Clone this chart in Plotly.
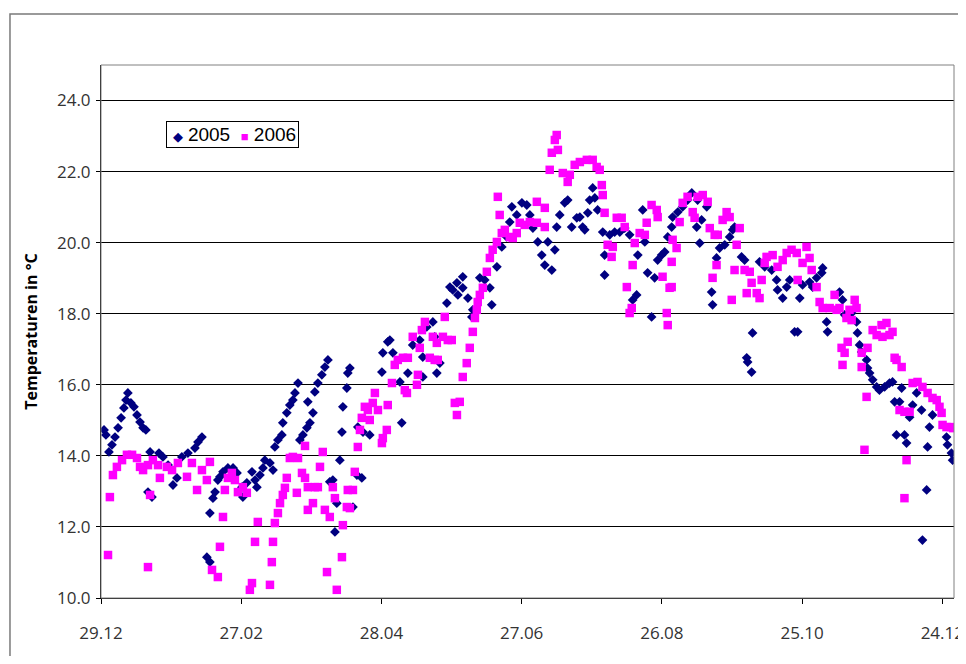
import plotly.graph_objects as go

# Day offsets counted from 29.12 and daily water temperatures (°C)
days_2005 = [1.3, 2.1, 3.4, 4.7, 6.0, 7.3, 8.6, 9.8, 10.7, 11.5, 12.8, 14.1, 15.4, 16.7, 18.0, 19.2,
             20.1, 21.8, 21.0, 24.8, 26.5, 28.7, 30.8, 32.5, 34.6, 37.2, 40.2, 41.5, 43.2, 45.3, 46.6,
             46.6, 47.9, 48.8, 50.0, 50.9, 52.2, 54.3, 56.5, 58.2, 60.3, 60.7, 62.4, 64.6, 65.9, 66.7,
             68.0, 69.3, 70.1, 72.3, 73.6, 74.4, 75.7, 77.4, 77.8, 79.5, 80.8, 82.1, 83.0, 84.3, 85.1,
             86.4, 88.1, 89.4, 90.7, 88.5, 91.5, 92.8, 94.5, 95.8, 97.1, 97.9, 99.2, 100.1, 100.9, 102.2,
             103.1, 103.5, 105.2, 105.6, 106.5, 107.8, 109.5, 111.6, 109.9, 112.1, 115.0, 120.2, 120.6,
             122.7, 123.6, 124.9, 127.9, 128.7, 131.3, 133.4, 136.4, 137.7, 137.7, 139.4, 142.0, 142.8,
             143.7, 145.0, 148.0, 149.3, 150.5, 152.7, 152.3, 154.8, 154.8, 157.0, 158.7, 159.1, 162.1,
             164.2, 166.4, 167.2, 169.4, 171.5, 173.6, 174.9, 175.8, 177.9, 180.1, 182.2, 183.5, 184.8,
             186.9, 188.6, 189.9, 191.2, 192.9, 194.2, 195.0, 196.3, 198.4, 199.7, 201.4, 203.6, 204.9,
             206.1, 207.0, 208.3, 209.1, 210.4, 211.3, 212.5, 214.7, 215.5, 215.5, 217.7, 219.8, 222.0,
             224.1, 226.2, 227.5, 229.2, 229.7, 231.8, 232.7, 233.9, 235.6, 236.9, 238.2, 239.9, 241.2,
             242.5, 244.2, 244.6, 246.8, 248.9, 251.0, 252.8, 255.3, 254.9, 256.2, 257.0, 259.2, 261.3,
             261.7, 263.4, 264.7, 266.9, 269.0, 270.3, 271.1, 274.1, 275.4, 276.3, 276.7, 278.4, 278.8,
             281.8, 284.0, 287.0, 289.1, 289.5, 291.7, 293.4, 294.7, 296.8, 298.1, 299.0, 300.2, 303.2,
             304.5, 306.2, 308.4, 308.8, 310.5, 310.9, 316.0, 317.3, 318.2, 321.2, 323.3, 323.7, 324.6,
             325.5, 327.6, 328.0, 328.9, 330.2, 331.9, 333.1, 335.3, 337.4, 338.7, 339.6, 340.4, 341.7,
             342.6, 343.8, 344.7, 346.0, 347.3, 349.0, 351.1, 351.5, 353.3, 353.7, 354.5, 355.8, 361.8,
             362.2, 363.9, 364.4]
temp_2005 = [14.73, 14.59, 14.11, 14.31, 14.53, 14.79, 15.07, 15.35, 15.57, 15.77, 15.49, 15.38, 15.15,
             14.95, 14.79, 14.73, 12.98, 12.84, 14.11, 14.08, 13.97, 13.74, 13.18, 13.38, 13.97, 14.08,
             14.22, 14.39, 14.53, 11.15, 11.01, 12.39, 12.81, 12.98, 13.32, 13.41, 13.55, 13.66, 13.66,
             13.52, 13.12, 12.84, 13.24, 13.55, 13.32, 13.12, 13.46, 13.66, 13.88, 13.80, 13.60, 14.25,
             14.45, 14.59, 14.93, 15.21, 15.43, 15.57, 15.77, 16.05, 14.45, 14.59, 14.79, 14.93, 15.21,
             15.52, 15.80, 16.05, 16.28, 16.50, 16.70, 13.27, 13.32, 11.86, 12.67, 13.88, 14.67, 15.38,
             15.91, 16.33, 16.47, 12.56, 13.46, 13.38, 14.81, 14.67, 14.59, 16.36, 16.90, 17.21, 17.26,
             16.90, 16.08, 14.93, 16.33, 17.12, 17.26, 16.78, 16.22, 17.63, 17.77, 17.35, 16.33, 16.61,
             18.30, 18.75, 18.67, 18.53, 18.87, 19.04, 18.73, 18.44, 17.91, 18.11, 19.01, 18.95, 18.73,
             18.25, 19.32, 19.88, 20.16, 20.58, 21.01, 20.78, 21.12, 21.06, 20.78, 20.41, 20.02, 19.65,
             19.37, 20.02, 19.23, 19.80, 20.44, 20.78, 21.12, 21.20, 20.44, 20.70, 20.72, 20.44, 20.36,
             20.84, 21.20, 21.54, 21.26, 20.92, 20.30, 19.65, 19.09, 20.22, 20.30, 20.30, 20.41, 20.22,
             18.39, 18.53, 19.65, 20.92, 20.02, 19.15, 17.91, 19.01, 19.51, 19.65, 19.74, 20.16, 20.44,
             20.72, 20.86, 21.01, 21.20, 21.40, 21.20, 20.44, 19.99, 20.64, 21.01, 18.61, 18.25, 19.57,
             19.85, 19.94, 20.16, 20.36, 20.44, 19.60, 19.51, 16.76, 16.64, 16.36, 17.46, 19.46, 19.32,
             19.23, 18.95, 18.67, 18.44, 18.75, 18.95, 17.49, 17.49, 18.44, 18.81, 18.89, 18.75, 19.01,
             19.15, 19.29, 17.77, 17.49, 18.61, 18.39, 17.97, 18.02, 17.77, 17.46, 17.12, 16.92, 16.70,
             16.47, 16.33, 16.14, 15.94, 15.85, 15.94, 16.05, 16.08, 15.52, 14.59, 15.52, 15.91, 14.59,
             14.36, 15.09, 15.43, 15.77, 15.29, 11.63, 13.04, 14.25, 14.81, 15.15, 14.53, 14.31, 14.08,
             13.88]

days_2006 = [3.0, 3.8, 5.1, 6.8, 9.0, 11.1, 13.3, 15.4, 16.7, 18.0, 20.1, 20.1, 21.0, 22.2, 24.4, 25.2,
             28.2, 30.4, 32.9, 36.8, 38.9, 41.1, 43.2, 45.3, 46.6, 47.5, 50.0, 50.9, 52.2, 53.0, 54.3,
             56.0, 57.3, 58.6, 60.7, 62.4, 63.7, 64.6, 65.9, 67.1, 72.3, 73.1, 73.6, 74.4, 75.7, 76.6,
             77.8, 78.7, 79.5, 80.8, 82.1, 83.8, 84.3, 86.0, 87.3, 87.3, 88.5, 88.5, 90.7, 91.5, 92.8,
             93.7, 94.9, 95.8, 96.7, 97.9, 99.2, 100.1, 100.9, 103.1, 103.5, 105.2, 105.6, 106.5, 107.8,
             108.6, 109.9, 110.8, 111.6, 112.9, 114.2, 115.0, 116.3, 117.2, 118.5, 120.2, 120.6, 122.3,
             122.7, 124.5, 125.7, 127.0, 129.2, 131.3, 130.0, 130.9, 133.4, 135.2, 135.6, 136.4, 137.3,
             138.6, 140.7, 142.0, 142.8, 143.7, 144.1, 146.3, 147.1, 148.4, 150.1, 151.4, 152.3, 153.5,
             154.8, 156.5, 157.8, 159.1, 160.0, 160.8, 161.2, 162.1, 163.4, 165.1, 166.4, 167.6, 169.4,
             169.8, 170.6, 171.5, 172.8, 174.9, 176.2, 177.9, 179.2, 181.3, 183.5, 186.5, 186.5, 189.9,
             189.9, 192.0, 192.9, 194.2, 195.0, 195.5, 197.6, 199.7, 200.6, 202.7, 204.9, 207.9, 210.4,
             212.1, 213.4, 214.3, 214.7, 215.5, 216.8, 218.5, 219.0, 220.7, 222.8, 224.1, 225.0, 226.2,
             227.1, 227.5, 228.4, 230.5, 232.7, 233.5, 235.6, 237.8, 238.2, 240.3, 243.3, 242.1, 242.5,
             244.2, 244.6, 244.2, 246.3, 247.6, 248.9, 251.0, 253.2, 254.0, 255.3, 257.5, 259.6, 260.5,
             261.7, 262.6, 263.4, 263.9, 266.0, 267.7, 269.0, 269.9, 271.1, 272.0, 273.3, 275.4, 276.3,
             277.6, 278.4, 280.6, 281.8, 282.7, 284.0, 284.8, 287.4, 289.5, 291.7, 293.4, 295.5, 297.7,
             298.1, 300.2, 301.9, 303.2, 304.1, 306.2, 307.5, 308.8, 311.8, 313.9, 314.8, 316.0, 316.9,
             317.3, 318.2, 319.0, 319.5, 320.3, 321.2, 322.5, 323.3, 325.5, 325.5, 326.7, 327.6, 328.0,
             330.2, 331.9, 334.0, 336.1, 334.4, 337.4, 338.7, 339.6, 340.4, 342.6, 341.7, 343.8, 346.0,
             344.7, 343.8, 347.3, 349.4, 351.5, 353.7, 355.8, 357.6, 358.8, 359.7, 360.1, 361.8, 363.9,
             364.7]
temp_2006 = [11.21, 12.84, 13.46, 13.69, 13.88, 14.03, 14.03, 13.94, 13.69, 13.60, 13.74, 10.87, 12.90,
             13.88, 13.74, 13.38, 13.69, 13.60, 13.80, 13.41, 13.80, 13.04, 13.60, 13.32, 13.83, 10.79,
             10.59, 11.44, 12.28, 13.04, 13.38, 13.52, 13.32, 12.98, 13.12, 12.96, 10.23, 10.42, 11.58,
             12.14, 10.37, 11.01, 11.58, 12.11, 12.39, 12.67, 12.90, 13.10, 13.38, 13.94, 13.97, 12.96,
             13.94, 13.52, 14.28, 13.38, 12.48, 13.12, 12.67, 13.12, 13.12, 13.69, 14.11, 12.48, 10.73,
             12.28, 13.12, 12.81, 10.23, 11.15, 12.05, 12.56, 13.04, 12.53, 13.04, 13.55, 14.25, 14.73,
             15.07, 15.38, 15.29, 15.01, 15.49, 15.77, 15.29, 14.36, 14.50, 14.73, 15.43, 16.05, 16.56,
             16.70, 16.76, 16.76, 15.85, 15.77, 17.35, 16.00, 16.28, 17.04, 17.54, 17.77, 16.76, 17.35,
             16.70, 17.18, 16.70, 17.35, 17.91, 17.26, 17.26, 15.49, 15.15, 15.52, 16.22, 16.61, 17.04,
             17.49, 17.88, 18.11, 18.33, 18.53, 18.73, 19.18, 19.57, 19.80, 20.02, 21.29, 20.78, 20.27,
             20.36, 20.16, 20.13, 20.27, 20.56, 20.50, 20.58, 20.56, 21.15, 20.98, 20.44, 22.05, 22.53,
             22.89, 23.03, 22.61, 21.96, 21.71, 21.91, 22.19, 22.27, 22.33, 22.33, 22.13, 22.05, 21.62,
             21.34, 20.84, 19.94, 19.60, 19.88, 20.70, 20.70, 20.44, 18.75, 18.02, 18.16, 19.37, 19.99,
             20.27, 20.22, 20.56, 21.06, 20.92, 20.72, 19.04, 18.73, 18.02, 17.68, 19.46, 20.08, 18.75,
             19.85, 20.58, 21.12, 21.29, 20.86, 20.70, 21.29, 21.34, 21.15, 20.41, 19.01, 20.22, 19.37,
             20.22, 20.64, 20.86, 20.72, 18.39, 19.23, 19.94, 20.41, 19.23, 18.58, 19.18, 18.87, 18.58,
             18.44, 18.95, 19.43, 19.60, 19.65, 19.32, 19.51, 19.71, 19.80, 19.71, 18.95, 19.43, 19.88,
             19.57, 19.23, 18.75, 18.33, 18.16, 18.16, 18.53, 18.11, 18.16, 17.04, 16.56, 16.90, 17.88,
             17.21, 18.11, 17.82, 18.39, 18.16, 16.90, 16.50, 14.17, 15.66, 17.04, 17.54, 17.40, 17.68,
             17.74, 17.35, 17.40, 17.49, 16.76, 16.70, 16.50, 15.29, 15.24, 15.24, 13.88, 12.81, 16.05,
             16.08, 15.94, 15.77, 15.63, 15.57, 15.38, 15.21, 14.87, 14.81, 14.81, 14.78]

tick_days = [0, 60, 120, 180, 240, 300, 360]
tick_labels = ["29.12", "27.02", "28.04", "27.06", "26.08", "25.10", "24.12"]
y_ticks = [10, 12, 14, 16, 18, 20, 22, 24]
series_names = ["2005", "2006"]
series_colors = ["#000080", "#FF00FF"]

fig = go.Figure()
fig.add_trace(go.Scatter(x=days_2005, y=temp_2005, mode="markers", name=series_names[0],
                         showlegend=False,
                         marker=dict(symbol="diamond", size=7.5, color=series_colors[0],
                                     line=dict(width=0))))
fig.add_trace(go.Scatter(x=days_2006, y=temp_2006, mode="markers", name=series_names[1],
                         showlegend=False,
                         marker=dict(symbol="square", size=8.5, color=series_colors[1],
                                     line=dict(width=0))))

tick_font = dict(family="Open Sans, Noto Sans, sans-serif", size=17, color="#333333")

legend_text = (
    f'<span style="font-size:13px">\u00a0</span>'
    f'<span style="color:{series_colors[0]};font-size:13px">\u25C6</span>\u00a0{series_names[0]}'
    f'\u00a0\u00a0<span style="color:{series_colors[1]};font-size:13px">\u25A0</span>\u00a0{series_names[1]}'
)

fig.update_layout(
    width=958, height=648,
    margin=dict(l=93, r=12, t=57, b=58, autoexpand=False),
    paper_bgcolor="white", plot_bgcolor="white",
    showlegend=False,
    xaxis=dict(range=[0, 365], tickmode="array", tickvals=tick_days, ticktext=tick_labels,
               showgrid=False, zeroline=False, showline=True, linecolor="black", linewidth=1,
               ticks="outside", ticklen=5, tickcolor="black", tickfont=tick_font,
               ticklabelstandoff=15, ticklabeloverflow="allow", automargin=False),
    yaxis=dict(range=[10, 25], tickmode="array", tickvals=y_ticks,
               ticktext=[f"{v:.1f}" for v in y_ticks],
               showgrid=True, gridcolor="black", gridwidth=1, zeroline=False,
               showline=True, linecolor="black", linewidth=1,
               ticks="outside", ticklen=4, tickcolor="black", tickfont=tick_font,
               ticklabelstandoff=2, automargin=False),
    annotations=[
        dict(text="<b>Temperaturen in °C</b>", xref="paper", yref="paper",
             x=-0.083, y=0.5, xanchor="center", yanchor="middle", textangle=-90,
             showarrow=False,
             font=dict(family="Open Sans, Noto Sans, sans-serif", size=16, color="black")),
        dict(text=legend_text, xref="paper", yref="paper", x=0.0762, y=0.8696,
             xanchor="left", yanchor="middle", showarrow=False, align="left",
             bgcolor="white", bordercolor="black", borderwidth=1, borderpad=2,
             font=dict(family="Liberation Sans, Arial, sans-serif", size=19, color="black")),
    ],
    shapes=[
        dict(type="rect", xref="paper", yref="paper", x0=0, x1=1, y0=0, y1=1,
             line=dict(color="#808080", width=1), layer="above"),
        dict(type="rect", xref="paper", yref="paper", x0=-0.1067, x1=1.05, y0=-0.2, y1=1.0957,
             line=dict(color="#7a7a7a", width=1.5), layer="below"),
    ],
)

fig.write_html("out.html")
